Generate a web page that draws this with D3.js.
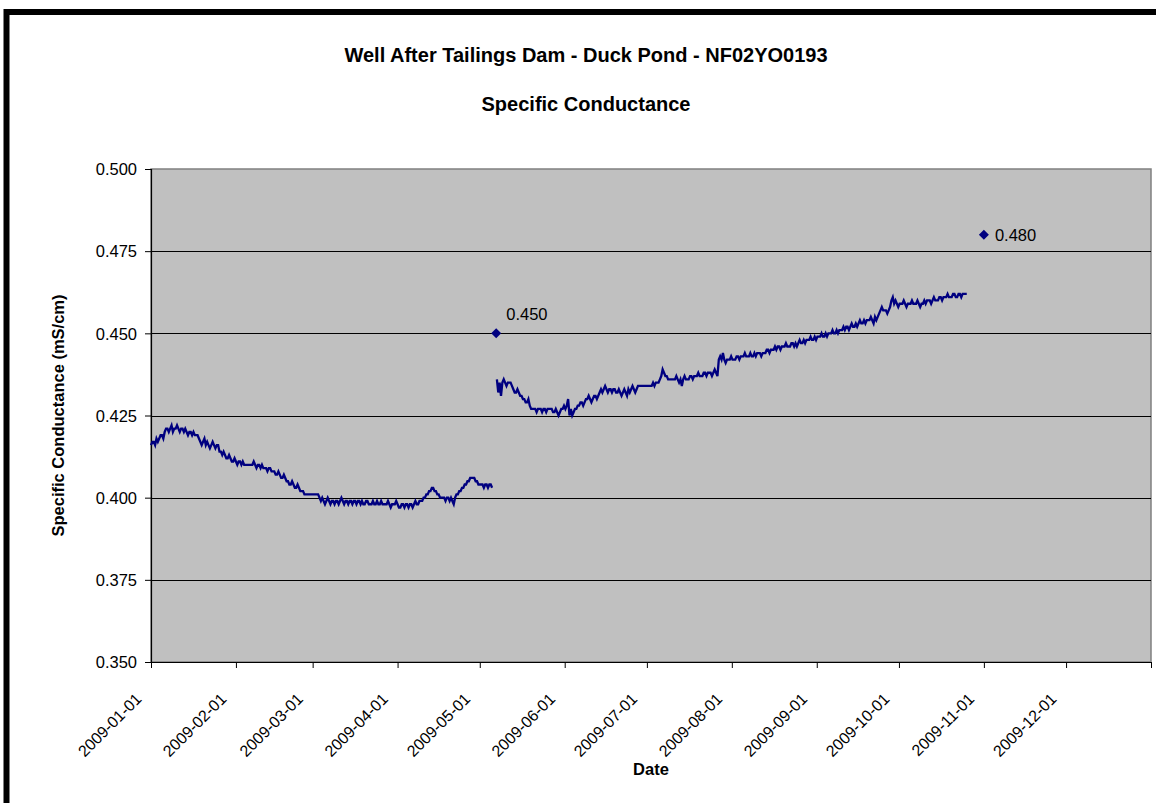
<!DOCTYPE html>
<html><head><meta charset="utf-8">
<script src="https://cdn.jsdelivr.net/npm/d3@7"></script>
<style>
body{margin:0;background:#fff}
text{font-family:"Liberation Sans",Arial,Helvetica,sans-serif;fill:#000}
</style>
</head><body>
<svg id="chart" width="1156" height="803"></svg>
<script>
const chartTitle = "Well After Tailings Dam - Duck Pond - NF02YO0193";
const chartSubtitle = "Specific Conductance";
const yAxisTitle = "Specific Conductance (mS/cm)";
const xAxisTitle = "Date";
const yTickValues = [0.350, 0.375, 0.400, 0.425, 0.450, 0.475, 0.500];
const xTickLabels = ["2009-01-01","2009-02-01","2009-03-01","2009-04-01","2009-05-01","2009-06-01",
                     "2009-07-01","2009-08-01","2009-09-01","2009-10-01","2009-11-01","2009-12-01"];
const xDomain = ["2009-01-01","2010-01-01"];

// Logger readings, every 12 hours, in µS/cm (= mS/cm × 1000)
const logger1Start = "2009-01-01T00:00";
const logger1_uS = [
416,417, 417,416, 418,417, 418,419, 419,418, 420,421, 421,420, 421,422, 420,421, 421,422,
421,420, 421,421, 420,421, 420,419, 420,420, 419,420, 419,419, 419,418, 417,416, 417,418,
416,417, 416,415, 416,417, 416,415, 416,416, 414,414, 413,414, 413,412, 412,413, 412,411,
411,412, 411,410, 411,411, 410,411, 410,410, 410,410, 410,410, 410,411, 410,409, 410,410,
409,410, 409,409, 409,408, 409,409, 408,408, 408,407, 407,408, 407,406, 406,407, 406,405,
405,404, 404,405, 404,403, 403,404, 403,402, 402,402, 401,401, 401,401, 401,401, 401,401,
401,401, 401,400, 399,400, 399,398, 399,400, 399,398, 399,399, 398,399, 399,398, 399,400,
399,398, 399,399, 398,399, 399,398, 399,399, 398,399, 399,398, 399,398, 398,399, 399,398,
398,398, 399,398, 398,399, 398,398, 399,398, 398,398, 398,399, 398,397, 398,398, 398,399,
398,397, 397,398, 398,397, 398,398, 397,398, 398,397, 398,399, 398,398, 399,399, 399,400,
400,401, 401,402, 402,403, 403,402, 402,401, 401,400, 400,400, 400,399, 400,400, 399,400,
399,398, 400,401, 401,402, 402,403, 403,404, 404,405, 405,406, 406,406, 406,405, 405,404,
404,404, 404,403, 404,404, 403,404, 404,403
];
const logger2Start = "2009-05-07T06:00";
const logger2_uS = [
436,432, 435,431, 435,436, 435,434, 435,435, 435,434, 433,432, 432,433, 432,431, 431,430,
430,429, 429,430, 428,427, 427,427, 427,426, 427,427, 427,426, 427,427, 426,427, 427,427,
427,426, 426,427, 426,425, 426,427, 427,428, 427,428, 430,425, 427,425, 426,427, 427,428,
428,429, 429,428, 429,430, 430,431, 430,429, 430,431, 431,430, 431,432, 433,432, 433,434,
433,432, 433,433, 432,433, 433,432, 432,433, 432,431, 432,433, 432,431, 433,432, 433,434,
433,432, 433,434, 434,434, 434,434, 434,434, 434,434, 434,434, 435,434, 435,435, 435,436,
437,439, 438,437, 437,436, 436,436, 436,436, 436,437, 436,435, 436,434, 436,437, 436,436,
436,437, 437,436, 437,437, 437,438, 437,437, 437,438, 438,437, 438,438, 438,437, 438,439,
438,437, 442,443, 442,444, 442,441, 442,442, 442,443, 442,442, 442,443, 443,442, 443,443,
443,444, 443,443, 443,444, 443,443, 444,443, 444,444, 444,443, 444,444, 444,445, 445,444,
445,445, 445,446, 445,446, 446,445, 446,446, 446,447, 446,446, 446,447, 447,446, 447,446,
447,448, 447,447, 448,447, 448,448, 448,449, 448,448, 449,448, 449,449, 449,450, 449,449,
450,449, 450,450, 450,451, 450,450, 451,450, 451,451, 451,452, 451,452, 452,451, 452,453,
452,452, 453,452, 453,454, 453,453, 454,453, 454,454, 454,455, 454,453, 455,454, 455,456,
457,458, 457,457, 457,456, 457,458, 460,461, 459,460, 459,458, 459,459, 459,460, 459,458,
459,459, 459,460, 459,459, 459,460, 459,458, 459,459, 460,459, 460,460, 460,459, 460,461,
460,460, 460,461, 461,460, 461,461, 461,462, 461,461, 461,462, 462,461, 461,462, 462,461,
462,462, 462,462
];
// Grab samples (mS/cm)
const sampleDates = ["2009-05-07", "2009-11-01"];
const sampleValues = [0.450, 0.480];
const sampleLabels = ["0.450", "0.480"];

const svg = d3.select("#chart");
const W = 1156, H = 803;
const M = {left: 151, right: 1151, top: 169, bottom: 662};

// outer frame
svg.append("rect").attr("x", 0).attr("y", 0).attr("width", W).attr("height", H).attr("fill", "#fff");
svg.append("rect").attr("x", 6.5).attr("y", 12).attr("width", 1170).attr("height", 820)
  .attr("fill", "none").attr("stroke", "#000").attr("stroke-width", 6);

const parseDay = d3.timeParse("%Y-%m-%d");
const parseTime = d3.timeParse("%Y-%m-%dT%H:%M");

const x = d3.scaleTime().domain(xDomain.map(parseDay)).range([M.left, M.right]);
const y = d3.scaleLinear().domain([0.35, 0.5]).range([M.bottom, M.top]);

// plot area
svg.append("rect").attr("x", M.left).attr("y", M.top)
  .attr("width", M.right - M.left).attr("height", M.bottom - M.top)
  .attr("fill", "#C0C0C0").attr("stroke", "#808080").attr("stroke-width", 1.5);

// gridlines
svg.append("g").selectAll("line").data(yTickValues.filter(v => v > 0.35 && v < 0.5)).join("line")
  .attr("x1", M.left).attr("x2", M.right)
  .attr("y1", d => Math.round(y(d)) + 0.5).attr("y2", d => Math.round(y(d)) + 0.5)
  .attr("stroke", "#000").attr("stroke-width", 1);

// y axis
const yAxis = svg.append("g").attr("transform", `translate(${M.left},0)`)
  .call(d3.axisLeft(y).tickValues(yTickValues).tickFormat(d3.format(".3f")).tickSize(6).tickSizeOuter(0));
yAxis.select(".domain").remove();
yAxis.selectAll(".tick line").attr("stroke", "#000");
yAxis.selectAll(".tick text").attr("font-size", 16.5).attr("x", -14).attr("dy", "0.35em");
svg.append("line").attr("x1", M.left + 0.5).attr("x2", M.left + 0.5)
  .attr("y1", M.top).attr("y2", M.bottom).attr("stroke", "#000").attr("stroke-width", 1.2);

// x axis
const xTickDates = xTickLabels.map(parseDay).concat([parseDay(xDomain[1])]);
const labelFor = new Map(xTickLabels.map(s => [+parseDay(s), s]));
const xAxis = svg.append("g").attr("transform", `translate(0,${M.bottom})`)
  .call(d3.axisBottom(x).tickValues(xTickDates).tickFormat(d => labelFor.get(+d) || "").tickSize(6).tickSizeOuter(0));
xAxis.select(".domain").remove();
xAxis.selectAll(".tick line").attr("stroke", "#000");
xAxis.selectAll(".tick text").attr("font-size", 16).attr("text-anchor", "end")
  .attr("x", 0).attr("y", 0).attr("dy", 0)
  .attr("transform", "translate(-9,38) rotate(-45)");
svg.append("line").attr("x1", M.left).attr("x2", M.right)
  .attr("y1", M.bottom + 0.5).attr("y2", M.bottom + 0.5).attr("stroke", "#000").attr("stroke-width", 1.2);

// logger series
function buildSeries(start, vals) {
  const t0 = parseTime(start);
  return vals.map((v, i) => ({t: d3.timeHour.offset(t0, i * 12), v: v / 1000}));
}
const series = [buildSeries(logger1Start, logger1_uS), buildSeries(logger2Start, logger2_uS)];
const line = d3.line().x(d => x(d.t)).y(d => y(d.v));
svg.append("g").selectAll("path").data(series).join("path")
  .attr("d", line).attr("fill", "none").attr("stroke", "#000080")
  .attr("stroke-width", 2.3).attr("stroke-linejoin", "miter");

// samples
const samples = sampleDates.map((d, i) => ({t: parseDay(d), v: sampleValues[i], label: sampleLabels[i]}));
svg.append("g").selectAll("path").data(samples).join("path")
  .attr("d", d3.symbol(d3.symbolSquare, 50))
  .attr("transform", d => `translate(${x(d.t)},${y(d.v)}) rotate(45)`)
  .attr("fill", "#000080");
const labelOffsets = [[10, -19], [11, 0]];
svg.append("g").selectAll("text").data(samples).join("text")
  .attr("x", (d, i) => x(d.t) + labelOffsets[i][0])
  .attr("y", (d, i) => y(d.v) + labelOffsets[i][1])
  .attr("dy", "0.35em").attr("font-size", 16.5)
  .text(d => d.label);

// titles
svg.append("text").attr("x", 586).attr("y", 62).attr("text-anchor", "middle")
  .attr("font-size", 20).attr("font-weight", "bold").text(chartTitle);
svg.append("text").attr("x", 586).attr("y", 111).attr("text-anchor", "middle")
  .attr("font-size", 20).attr("font-weight", "bold").text(chartSubtitle);
svg.append("text").attr("transform", `translate(64,${(M.top + M.bottom) / 2}) rotate(-90)`)
  .attr("text-anchor", "middle").attr("font-size", 16.5).attr("font-weight", "bold").text(yAxisTitle);
svg.append("text").attr("x", (M.left + M.right) / 2).attr("y", 775).attr("text-anchor", "middle")
  .attr("font-size", 16.5).attr("font-weight", "bold").text(xAxisTitle);
</script>
</body></html>
